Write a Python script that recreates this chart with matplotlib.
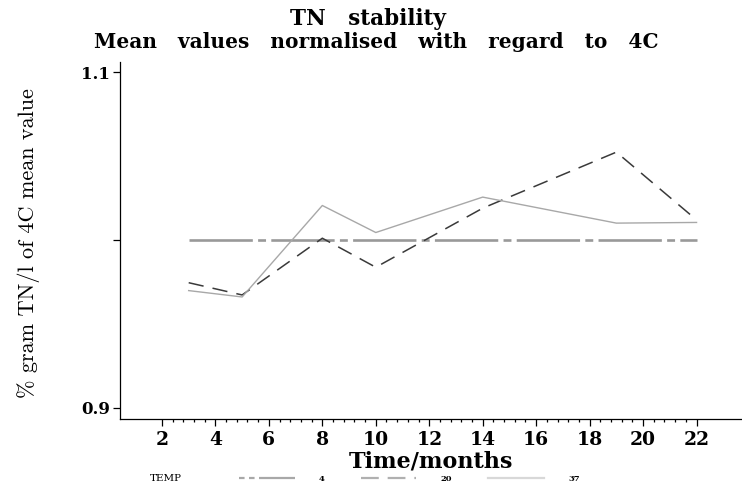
import numpy as np
import matplotlib.pyplot as plt
from matplotlib.ticker import FixedLocator
from matplotlib.lines import Line2D

# Mean TN values, normalised to the 4C mean, per storage temperature
months = [3, 5, 8, 10, 14, 19, 22]
temp_4 = [1.0, 1.0, 1.0, 1.0, 1.0, 1.0, 1.0]
temp_20 = [0.9745, 0.9672, 1.001, 0.9837, 1.0189, 1.0523, 1.0119]
temp_37 = [0.9698, 0.966, 1.0205, 1.0044, 1.0255, 1.010, 1.0104]
temps = ['4', '20', '37']

x_ticks = [2, 4, 6, 8, 10, 12, 14, 16, 18, 20, 22]
y_ticks = [0.9, 1.0, 1.1]
y_tick_labels = ['0.9', '', '1.1']

serif = 'DejaVu Serif'

fig = plt.figure(figsize=(7.42, 4.9), dpi=100)
ax = fig.add_axes([0.1617, 0.1449, 0.8383, 0.7286])

ax.plot(months, temp_4, color='#999999', lw=1.9, dashes=(24, 2, 3, 2))
ax.plot(months, temp_20, color='#3a3a3a', lw=1.1, dashes=(10, 6))
ax.plot(months, temp_37, color='#a8a8a8', lw=1.0)

ax.set_xlim(0.43, 23.7)
ax.set_ylim(0.8933, 1.106)

ax.spines['top'].set_visible(False)
ax.spines['right'].set_visible(False)
for s in ('left', 'bottom'):
    ax.spines[s].set_linewidth(0.9)

ax.set_xticks(x_ticks)
ax.xaxis.set_minor_locator(FixedLocator(np.arange(2, 22.01, 0.4)))
ax.set_yticks(y_ticks)
ax.set_yticklabels(y_tick_labels)
ax.tick_params(axis='both', which='major', length=5, width=0.9)
ax.tick_params(axis='x', which='minor', length=2.5, width=0.9)
ax.tick_params(axis='x', labelsize=13.5, pad=3.5)
ax.tick_params(axis='y', labelsize=12, pad=2)
for lab in ax.get_xticklabels() + ax.get_yticklabels():
    lab.set_fontfamily(serif)
    lab.set_fontweight('bold')

ax.set_xlabel('Time/months', fontfamily=serif, fontweight='bold',
              fontsize=16, labelpad=1)
fig.text(0.038, 0.503, '% gram TN/l of 4C mean value', rotation=90,
         fontfamily='cmr10', fontsize=16, ha='center', va='center')

fig.text(0.496, 0.948, 'TN   stability', fontfamily=serif, fontweight='bold',
         fontsize=15.5, ha='center', va='baseline')
fig.text(0.507, 0.903, 'Mean   values   normalised   with   regard   to   4C',
         fontfamily=serif, fontweight='bold', fontsize=14.5,
         ha='center', va='baseline')

# legend row at the bottom
handles = [
    Line2D([], [], color='#a8a8a8', lw=1.6, dashes=(2.5, 2, 2.5, 2, 22, 0)),
    Line2D([], [], color='#b0b0b0', lw=1.6, dashes=(8, 4)),
    Line2D([], [], color='#d8d8d8', lw=1.6),
]
fig.legend(handles, temps, ncol=3, frameon=False,
           loc='center left', bbox_to_anchor=(0.322, 0.023),
           borderpad=0, borderaxespad=0,
           handlelength=6.7, handletextpad=2.9, columnspacing=4.3,
           prop={'family': serif, 'size': 6, 'weight': 'bold'})
fig.text(0.202, 0.023, 'TEMP', fontfamily=serif, fontsize=7.5,
         ha='left', va='center')

fig.savefig('out.png', dpi=100)
